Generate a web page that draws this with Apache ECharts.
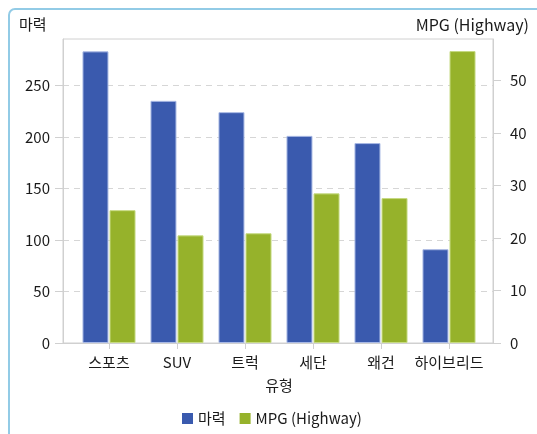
<!DOCTYPE html>
<html>
<head>
<meta charset="utf-8">
<script src="https://cdn.jsdelivr.net/npm/echarts@6/dist/echarts.min.js"></script>
<style>
  html, body { margin: 0; padding: 0; background: #fff; }
  #chart { width: 537px; height: 434px; }
</style>
</head>
<body>
<div id="chart"></div>
<script>
// data
const categories = ['스포츠', 'SUV', '트럭', '세단', '왜건', '하이브리드']
const horsepower = [283, 235, 224, 201, 194, 91]
const mpgHighway = [25.3, 20.5, 20.9, 28.5, 27.6, 55.6]
const hpTicks = [0, 50, 100, 150, 200, 250]
const mpgTicks = [0, 10, 20, 30, 40, 50]

const font = '"Noto Sans CJK KR", "Noto Sans", sans-serif'
const textColor = '#1a1a1a'
const frameColor = '#d0d0d0'
const blue = '#3a5aae'
const green = '#96b22b'

const chart = echarts.init(document.getElementById('chart'))

const hiddenY = (max) => ({
  type: 'value', gridIndex: 1, min: 0, max: max, show: false,
  splitLine: { show: false }
})

chart.setOption({
  animation: false,
  textStyle: { fontFamily: font },
  graphic: [
    {
      type: 'rect', silent: true,
      shape: { x: 9, y: 9, width: 600, height: 500, r: 6 },
      style: { fill: 'none', stroke: '#92cbe6', lineWidth: 2 }
    },
    {
      type: 'text', left: 19, top: 17,
      style: { text: '마력', font: '15px ' + font, fill: textColor }
    },
    {
      type: 'text', right: 8, top: 17,
      style: { text: 'MPG (Highway)', font: '16px ' + font, fill: textColor }
    }
  ],
  grid: [
    // frame, axes and grid lines
    { left: 63, right: 44, top: 39, bottom: 91, show: true, borderColor: frameColor, borderWidth: 1 },
    // bars (inset so category centres match)
    { left: 75, right: 54, top: 39, bottom: 91 }
  ],
  legend: {
    left: 182, top: 411, padding: 0,
    icon: 'rect', itemWidth: 11, itemHeight: 11, itemGap: 14,
    itemStyle: { borderWidth: 0 },
    textStyle: { fontSize: 15, color: textColor, fontFamily: font },
    data: ['마력', 'MPG (Highway)']
  },
  xAxis: [
    {
      type: 'category', gridIndex: 0, data: categories,
      axisLine: { show: true, lineStyle: { color: frameColor } },
      axisTick: { show: false }, axisLabel: { show: false }
    },
    {
      type: 'category', gridIndex: 1, data: categories,
      axisLine: { show: false },
      axisTick: { show: true, alignWithLabel: true, length: 6, lineStyle: { color: frameColor } },
      axisLabel: { interval: 0, fontSize: 15, color: textColor, margin: 12, fontFamily: font },
      name: '유형', nameLocation: 'middle', nameGap: 35,
      nameTextStyle: { fontSize: 15, color: textColor, fontFamily: font }
    }
  ],
  yAxis: [
    {
      type: 'value', gridIndex: 0, position: 'left', min: 0, max: 295, interval: 50,
      axisLine: { show: true, lineStyle: { color: frameColor } },
      axisTick: { show: true, length: 8, customValues: hpTicks, lineStyle: { color: frameColor } },
      axisLabel: { fontSize: 15, color: textColor, margin: 13, customValues: hpTicks, fontFamily: font },
      splitLine: { show: true, lineStyle: { color: '#d6d6d6', type: [6, 5] } }
    },
    {
      type: 'value', gridIndex: 0, position: 'right', min: 0, max: 57.9, interval: 10,
      axisLine: { show: true, lineStyle: { color: frameColor } },
      axisTick: { show: true, length: 8, customValues: mpgTicks, lineStyle: { color: frameColor } },
      axisLabel: { fontSize: 15, color: textColor, margin: 17, customValues: mpgTicks, fontFamily: font },
      splitLine: { show: false }
    },
    hiddenY(295),
    hiddenY(57.9)
  ],
  series: [
    {
      name: '마력', type: 'bar', xAxisIndex: 1, yAxisIndex: 2,
      barWidth: 26, barGap: '4%',
      itemStyle: { color: blue, borderColor: '#a9b9e4', borderWidth: 1 },
      data: horsepower
    },
    {
      name: 'MPG (Highway)', type: 'bar', xAxisIndex: 1, yAxisIndex: 3,
      barWidth: 26, barGap: '4%',
      itemStyle: { color: green, borderColor: '#c6da82', borderWidth: 1 },
      data: mpgHighway
    }
  ]
})
</script>
</body>
</html>
